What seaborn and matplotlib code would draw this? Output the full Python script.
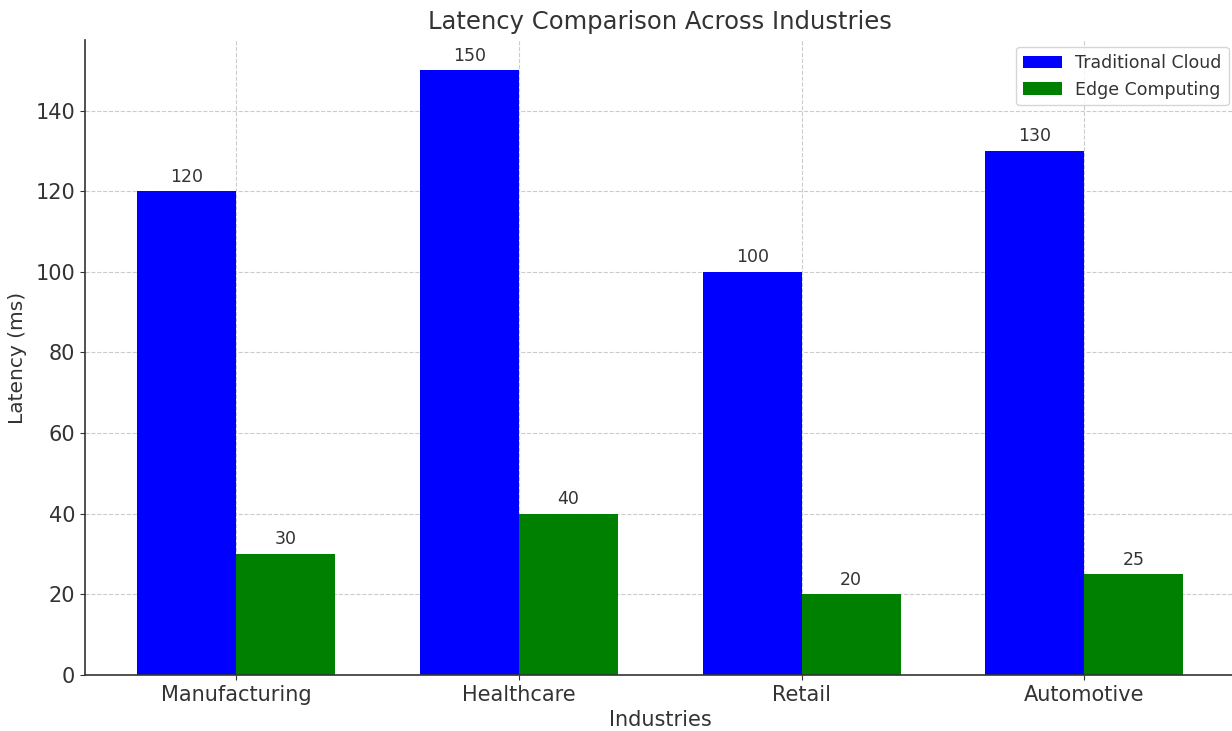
import matplotlib
matplotlib.use("Agg")
import matplotlib.pyplot as plt
import seaborn as sns
import pandas as pd

industries = ["Manufacturing", "Healthcare", "Retail", "Automotive"]
traditional_cloud = [120, 150, 100, 130]
edge_computing = [30, 40, 20, 25]
series_names = ["Traditional Cloud", "Edge Computing"]
series_colors = ["blue", "green"]

df = pd.DataFrame({
    "Industry": industries * 2,
    "Latency": traditional_cloud + edge_computing,
    "Series": [series_names[0]] * len(industries) + [series_names[1]] * len(industries),
})

sns.set_style("white")
plt.rcParams["font.family"] = ["DejaVu Sans"]
text_color = "#333333"
plt.rcParams["text.color"] = text_color
plt.rcParams["axes.labelcolor"] = text_color
plt.rcParams["xtick.color"] = text_color
plt.rcParams["ytick.color"] = text_color

fig = plt.figure(figsize=(12.32, 7.31), dpi=100)
ax = fig.add_axes([0.069, 0.0766, 0.934, 0.8687])

sns.barplot(data=df, x="Industry", y="Latency", hue="Series", palette=series_colors,
            width=0.7, dodge=True, saturation=1, ax=ax, errorbar=None, linewidth=0)

for cont in ax.containers:
    ax.bar_label(cont, padding=4, fontsize=12.5, color=text_color)

ax.set_axisbelow(True)
ax.grid(True, linestyle="--", color="#cccccc", linewidth=0.8)
ax.set_xlim(-0.535, 3.535)
ax.set_ylim(0, 157.5)
ax.set_yticks([0, 20, 40, 60, 80, 100, 120, 140])
ax.tick_params(axis="both", labelsize=15, length=3.5, left=True, bottom=True)
ax.set_xlabel("Industries", fontsize=15)
ax.set_ylabel("Latency (ms)", fontsize=14.5, labelpad=6)
ax.set_title("Latency Comparison Across Industries", fontsize=17.5, pad=8)
for s in ["top", "right"]:
    ax.spines[s].set_visible(False)
for s in ["left", "bottom"]:
    ax.spines[s].set_color("#333333")
    ax.spines[s].set_linewidth(1.2)

ax.legend(loc="upper right", fontsize=12.5, title=None, frameon=True,
          handlelength=2.2, borderaxespad=0.4)

fig.savefig("out.png", dpi=100)
